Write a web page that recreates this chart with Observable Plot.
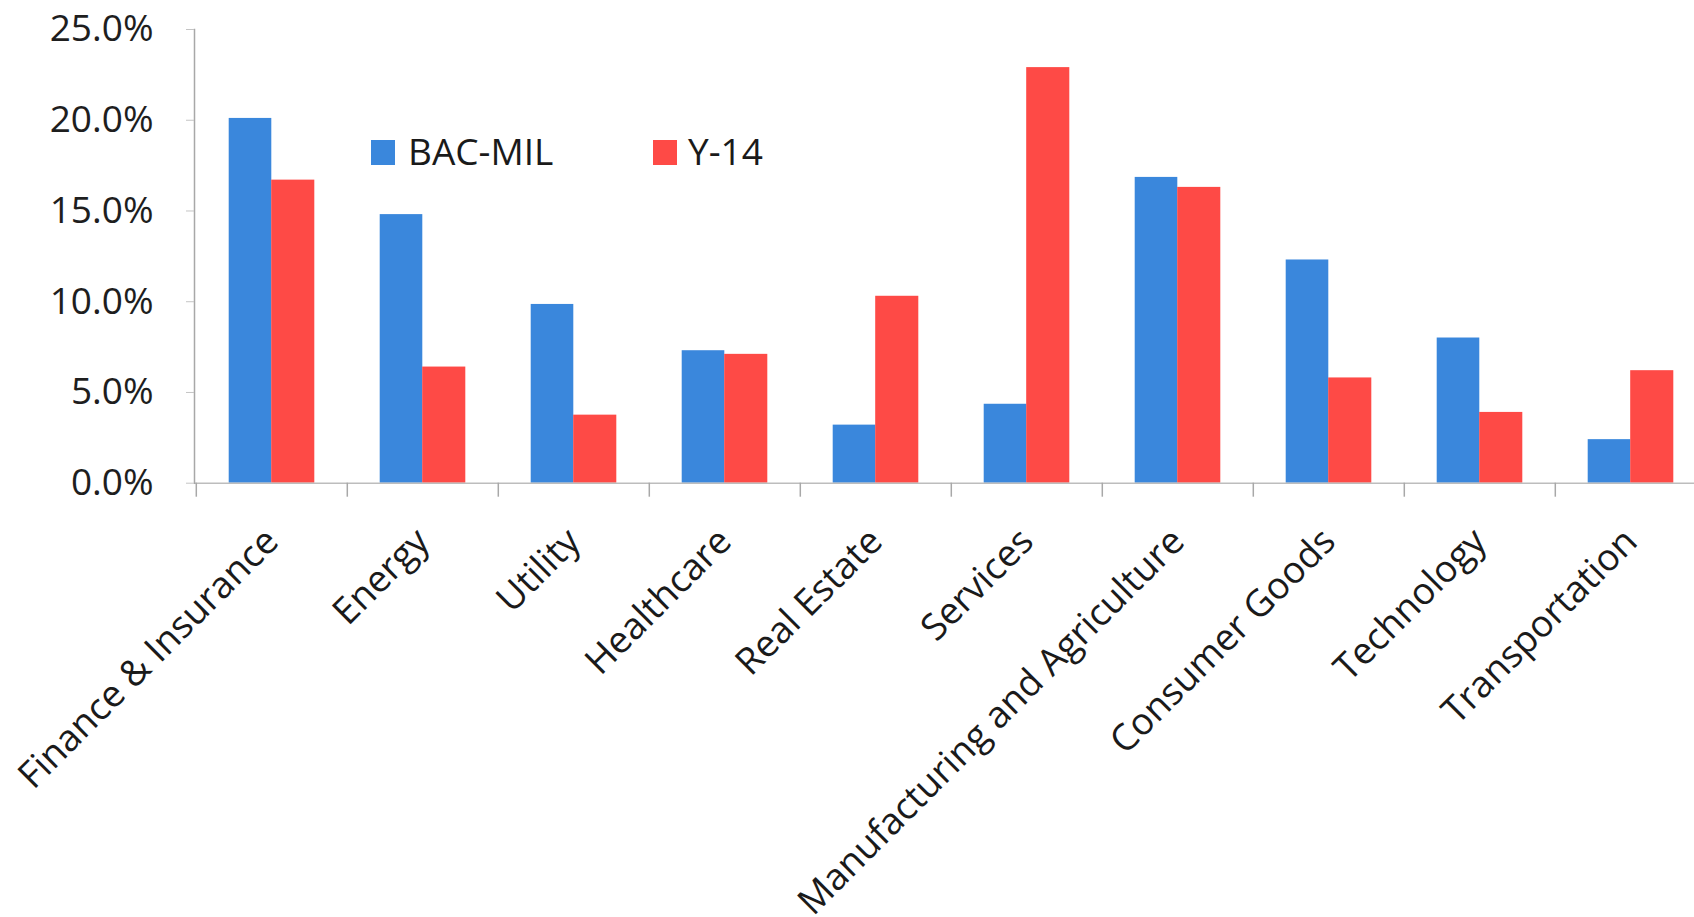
<!DOCTYPE html>
<html>
<head>
<meta charset="utf-8">
<script src="https://cdn.jsdelivr.net/npm/d3@7"></script>
<script src="https://cdn.jsdelivr.net/npm/@observablehq/plot@0.6"></script>
<style>
  html, body { margin: 0; padding: 0; background: #fff; overflow: hidden; }
  #wrap { position: relative; width: 1694px; height: 917px; overflow: hidden; background: #fff; }
  #chart svg { max-width: none !important; display: block; }
  .lg-sw { position: absolute; width: 24px; height: 25px; }
  .lg-tx { position: absolute; font-family: "Open Sans", sans-serif; font-size: 37px; line-height: 37px; color: #1a1a1a; white-space: nowrap; }
</style>
</head>
<body>
<div id="wrap">
  <div id="chart"></div>
</div>
<script>
// ---- data ----
const categories = ["Finance & Insurance", "Energy", "Utility", "Healthcare", "Real Estate", "Services", "Manufacturing and Agriculture", "Consumer Goods", "Technology", "Transportation"];
const seriesNames = ["BAC-MIL", "Y-14"];
const seriesColors = ["#3a87dc", "#fe4a46"];
const bacMil = [20.1, 14.8, 9.85, 7.3, 3.2, 4.35, 16.85, 12.3, 8.0, 2.4];
const y14 = [16.7, 6.4, 3.75, 7.1, 10.3, 22.9, 16.3, 5.8, 3.9, 6.2];
const yTicks = [0, 5, 10, 15, 20, 25];

// ---- layout ----
const W = 1708, H = 917, ML = 194, MT = 29, MB = 434.3;
const step = (W - ML) / categories.length;
const barW = 43;
const off = (step - 2 * barW) / 2;

const rows = categories.flatMap((c, i) => [
  {category: c, series: seriesNames[0], value: bacMil[i]},
  {category: c, series: seriesNames[1], value: y14[i]}
]);

const chart = Plot.plot({
  width: W,
  height: H,
  marginLeft: ML,
  marginRight: 0,
  marginTop: MT,
  marginBottom: MB,
  style: {fontFamily: "'Open Sans', sans-serif", background: "#fff", maxWidth: "none"},
  x: {domain: categories, padding: 0, label: null},
  y: {domain: [0, 25], label: null},
  color: {domain: seriesNames, range: seriesColors},
  marks: [
    Plot.barY(rows.filter(d => d.series === seriesNames[0]), {x: "category", y: "value", fill: "series", insetLeft: off, insetRight: off + barW}),
    Plot.barY(rows.filter(d => d.series === seriesNames[1]), {x: "category", y: "value", fill: "series", insetLeft: off + barW - 0.5, insetRight: off}),
    Plot.ruleY([0], {stroke: "#bdbdbd", strokeWidth: 1.5}),
    Plot.frame({anchor: "left", stroke: "#a8a8a8", strokeWidth: 1.5}),
    Plot.axisY({ticks: yTicks, tickFormat: d => d.toFixed(1) + "%", tickSize: 8, tickPadding: 33, fontSize: 37, stroke: "#c4c4c4", fill: "#1e1e1e", label: null}),
    Plot.axisX({tickSize: 14, tickFormat: () => "", dx: -step / 2, stroke: "#a8a8a8", strokeWidth: 1.5, label: null}),
    Plot.axisX({tickSize: 0, tickPadding: 52, tickRotate: -45, fontSize: 37, fill: "#1a1a1a", label: null})
  ]
});
document.getElementById("chart").appendChild(chart);

// ---- legend (overlaid inside the plot area) ----
const wrap = document.getElementById("wrap");
const legendPos = [{sx: 371, tx: 408}, {sx: 653, tx: 688}];
seriesNames.forEach((name, i) => {
  const sw = document.createElement("div");
  sw.className = "lg-sw";
  sw.style.left = legendPos[i].sx + "px";
  sw.style.top = "140px";
  sw.style.background = seriesColors[i];
  wrap.appendChild(sw);
  const tx = document.createElement("div");
  tx.className = "lg-tx";
  tx.style.left = legendPos[i].tx + "px";
  tx.style.top = "132px";
  tx.textContent = name;
  wrap.appendChild(tx);
});
</script>
</body>
</html>
